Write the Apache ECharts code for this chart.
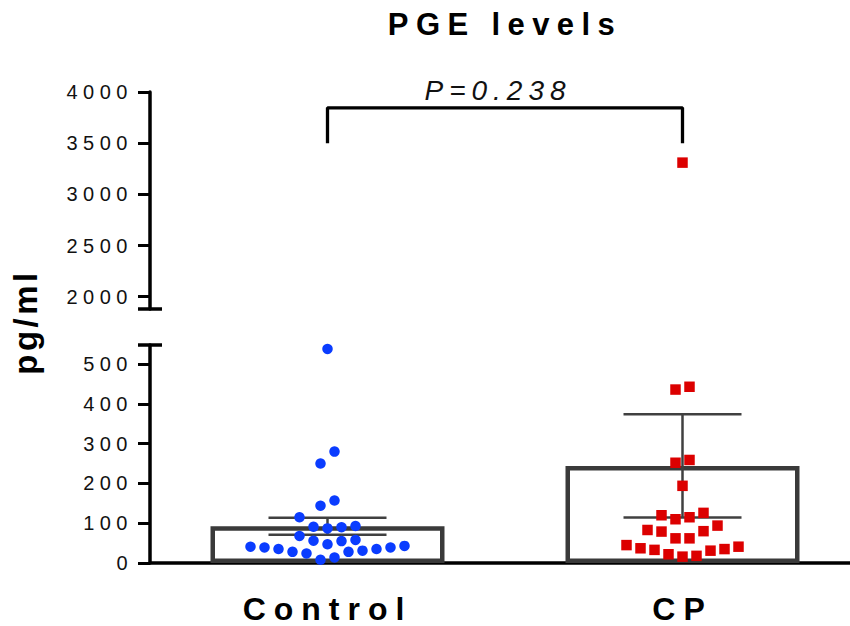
<!DOCTYPE html>
<html>
<head>
<meta charset="utf-8">
<script src="https://cdn.jsdelivr.net/npm/echarts@6/dist/echarts.min.js"></script>
<style>
html,body{margin:0;padding:0;background:#fff;}
#c{width:850px;height:626px;}
</style>
</head>
<body>
<div id="c"></div>
<script>
// ---------------- data ----------------
const categories = ['Control', 'CP'];
const controlValues = [538, 280, 250, 157, 144, 115, 91, 87, 90, 93, 68, 58, 55, 56, 47,
  41, 39, 35, 28, 24, 28, 31, 35, 39, 43, 8, 14];
const cpValues = [3310, 443, 436, 252, 259, 194, 120, 110, 115, 126, 94, 80, 62, 62, 79, 83,
  45, 37, 33, 22, 16, 18, 31, 35, 41];
const lowerTicks = [0, 100, 200, 300, 400, 500];
const upperTicks = [2000, 2500, 3000, 3500, 4000];
const lowerRange = [0, 548];
const upperRange = [1880, 4000];
const bracketLow = 3500;
const bracketHigh = 3845;
const pText = 'P=0.238';
const titleText = 'PGE levels';
const yName = 'pg/ml';

// ---------------- layout ----------------
const FONT = '"Liberation Sans", Arial, Helvetica, sans-serif';
const GRID_LEFT = 150, GRID_W = 710;
const LOWER_TOP = 345, LOWER_H = 218;
const UPPER_TOP = 92, UPPER_H = 217;
const ROW_H = 14.5;      // px: points closer than this share a swarm row
const SPACING = 14;      // px between neighbours in a row

function stats(arr) {
  const n = arr.length;
  const m = arr.reduce((a, b) => a + b, 0) / n;
  const sd = Math.sqrt(arr.reduce((a, b) => a + (b - m) * (b - m), 0) / (n - 1));
  return [m, sd / Math.sqrt(n)];
}

function swarmOffsets(values) {
  const pxLow = LOWER_H / (lowerRange[1] - lowerRange[0]);
  const pxUp = UPPER_H / (upperRange[1] - upperRange[0]);
  const toPx = v => v <= lowerRange[1] ? (v - lowerRange[0]) * pxLow : 100000 + (v - upperRange[0]) * pxUp;
  const idx = values.map((v, i) => i).sort((a, b) => values[a] - values[b]);
  const rows = [];
  let cur = null;
  idx.forEach(i => {
    const p = toPx(values[i]);
    if (!cur || p - cur.start > ROW_H) { cur = { start: p, items: [] }; rows.push(cur); }
    cur.items.push(i);
  });
  const off = new Array(values.length).fill(0);
  rows.forEach(r => {
    const n = r.items.length;
    r.items.forEach((i, k) => {
      let o;
      if (n % 2) {
        if (k === 0) o = 0;
        else { const m = Math.ceil(k / 2); o = (k % 2) ? m : -m; }
      } else {
        const m = Math.floor(k / 2) + 0.5; o = (k % 2) ? m : -m;
      }
      off[i] = o * SPACING;
    });
  });
  return off;
}

function scatterData(values, catIndex, inUpper) {
  const off = swarmOffsets(values);
  const out = [];
  values.forEach((v, i) => {
    const upper = v >= upperRange[0];
    if (upper === inUpper) out.push({ value: [catIndex, v], symbolOffset: [off[i], 0] });
  });
  return out;
}

const cStats = stats(controlValues);
const pStats = stats(cpValues);
const means = [cStats[0], pStats[0]];
const errData = [[0, cStats[0], cStats[1]], [1, pStats[0], pStats[1]]];

const BLUE = '#0a3cff', RED = '#dc0000', BAR = '#3a3a3a', ERR = '#404040';

const chart = echarts.init(document.getElementById('c'), null, { renderer: 'svg' });

const yAxisCommon = {
  type: 'value',
  splitLine: { show: false },
  axisLine: { show: true, lineStyle: { color: '#000', width: 3.5 } },
  axisTick: { show: true, length: 12, lineStyle: { color: '#000', width: 3 } },
  axisLabel: { fontSize: 20, color: '#111', margin: 17, fontFamily: FONT, formatter: v => String(v) }
};

const option = {
  animation: false,
  backgroundColor: '#fff',
  grid: [
    { left: GRID_LEFT, top: LOWER_TOP, width: GRID_W, height: LOWER_H, outerBoundsMode: 'none', containLabel: false },
    { left: GRID_LEFT, top: UPPER_TOP, width: GRID_W, height: UPPER_H, outerBoundsMode: 'none', containLabel: false }
  ],
  xAxis: [
    {
      gridIndex: 0, type: 'category', data: categories,
      axisLine: { lineStyle: { color: '#000', width: 3.5 } },
      axisTick: { alignWithLabel: true, length: 11, lineStyle: { color: '#000', width: 3.5 } },
      axisLabel: { fontSize: 32, fontWeight: 'bold', color: '#000', margin: 30, fontFamily: FONT }
    },
    { gridIndex: 1, type: 'category', data: categories, show: false }
  ],
  yAxis: [
    Object.assign({}, yAxisCommon, {
      gridIndex: 0, min: lowerRange[0], max: lowerRange[1],
      axisLine: { show: true, symbol: ['none', 'rect'], symbolSize: [24, 3.5], lineStyle: { color: '#000', width: 3.5 } },
      axisTick: Object.assign({}, yAxisCommon.axisTick, { customValues: lowerTicks }),
      axisLabel: Object.assign({}, yAxisCommon.axisLabel, { customValues: lowerTicks })
    }),
    Object.assign({}, yAxisCommon, {
      gridIndex: 1, min: upperRange[0], max: upperRange[1],
      axisLine: { show: true, symbol: ['rect', 'none'], symbolSize: [24, 3.5], lineStyle: { color: '#000', width: 3.5 } },
      axisTick: Object.assign({}, yAxisCommon.axisTick, { customValues: upperTicks }),
      axisLabel: Object.assign({}, yAxisCommon.axisLabel, { customValues: upperTicks })
    })
  ],
  graphic: [
    { type: 'text', x: 505, y: 24, style: { text: titleText, font: 'bold 31px ' + FONT, fill: '#000', textAlign: 'center', textVerticalAlign: 'middle' } },
    { type: 'text', x: 498, y: 90, style: { text: pText, font: 'italic 28px ' + FONT, fill: '#111', textAlign: 'center', textVerticalAlign: 'middle' } },
    { type: 'text', x: 25, y: 322, rotation: Math.PI / 2, style: { text: yName, font: 'bold 33px ' + FONT, fill: '#000', textAlign: 'center', textVerticalAlign: 'middle' } }
  ],
  series: [
    {
      type: 'bar', xAxisIndex: 0, yAxisIndex: 0, data: means, barWidth: 234, z: 2,
      itemStyle: { color: '#fff', borderColor: BAR, borderWidth: 4.5 }, silent: true
    },
    {
      type: 'custom', xAxisIndex: 0, yAxisIndex: 0, data: errData, z: 3, silent: true,
      renderItem: function (params, api) {
        const x = api.value(0), m = api.value(1), s = api.value(2);
        const hi = api.coord([x, m + s]), lo = api.coord([x, m - s]);
        const hw = 59;
        const st = { stroke: ERR, lineWidth: 2.5 };
        return {
          type: 'group', children: [
            { type: 'line', shape: { x1: hi[0], y1: hi[1], x2: lo[0], y2: lo[1] }, style: st },
            { type: 'line', shape: { x1: hi[0] - hw, y1: hi[1], x2: hi[0] + hw, y2: hi[1] }, style: st },
            { type: 'line', shape: { x1: lo[0] - hw, y1: lo[1], x2: lo[0] + hw, y2: lo[1] }, style: st }
          ]
        };
      }
    },
    {
      name: 'Control', type: 'scatter', xAxisIndex: 0, yAxisIndex: 0, z: 4, silent: true,
      symbol: 'circle', symbolSize: 10.5, itemStyle: { color: BLUE, opacity: 1 },
      data: scatterData(controlValues, 0, false)
    },
    {
      name: 'CP', type: 'scatter', xAxisIndex: 0, yAxisIndex: 0, z: 4, silent: true,
      symbol: 'rect', symbolSize: 10.5, itemStyle: { color: RED, opacity: 1 },
      data: scatterData(cpValues, 1, false)
    },
    {
      name: 'CP', type: 'scatter', xAxisIndex: 1, yAxisIndex: 1, z: 4, silent: true,
      symbol: 'rect', symbolSize: 10.5, itemStyle: { color: RED, opacity: 1 },
      data: scatterData(cpValues, 1, true)
    },
    {
      type: 'line', xAxisIndex: 1, yAxisIndex: 1, symbol: 'none', silent: true, z: 5,
      lineStyle: { color: '#000', width: 3.3 },
      data: [[0, bracketLow], [0, bracketHigh], [1, bracketHigh], [1, bracketLow]]
    }
  ]
};

chart.setOption(option);

const spacingMap = { 'PGE levels': 7.4, 'P=0.238': 6, 'pg/ml': 3.5, 'Control': 8, 'CP': 8 };
function applySpacing() {
  document.querySelectorAll('#c svg text').forEach(t => {
    const s = t.textContent;
    let v = spacingMap[s];
    if (v === undefined) v = /^\d+$/.test(s) ? 5.5 : 0;
    t.style.letterSpacing = v + 'px';
  });
}
chart.on('finished', applySpacing);
applySpacing();
setTimeout(applySpacing, 50);
setTimeout(applySpacing, 300);
</script>
</body>
</html>
